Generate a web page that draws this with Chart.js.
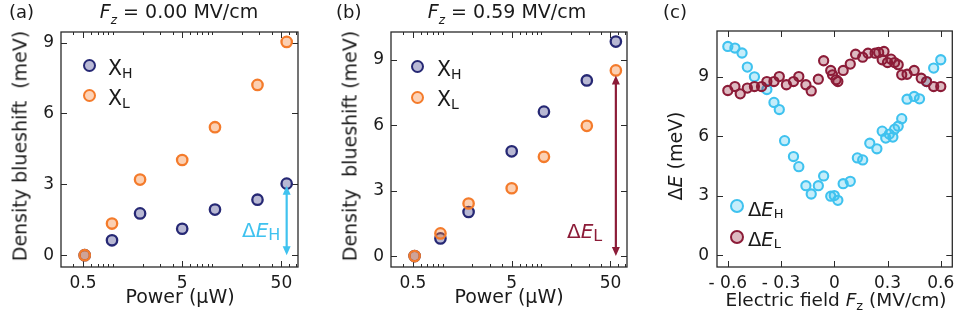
<!DOCTYPE html>
<html>
<head>
<meta charset="utf-8">
<script src="https://cdn.jsdelivr.net/npm/chart.js@4.4.0/dist/chart.umd.min.js"></script>
<style>
    body { margin: 0; background: #fff; width: 959px; height: 324px; position: relative; overflow: hidden;
           font-family: "DejaVu Sans", sans-serif; color: #1a1a1a; }
    .panel { position: absolute; top: 0; height: 324px; }
    .t { position: absolute; white-space: nowrap; line-height: 1; }
    .s { position: relative; }
    .dot { position: absolute; border-radius: 50%; box-sizing: border-box; }
</style>
</head>
<body>
<div class="panel" style="left:0;width:320px"><canvas id="chartA" width="320" height="324"></canvas></div>
<div class="panel" style="left:320px;width:320px"><canvas id="chartB" width="320" height="324"></canvas></div>
<div class="panel" style="left:640px;width:319px"><canvas id="chartC" width="319" height="324"></canvas></div>
<div id="labels"></div>

<script>
// ---- data ----
// (a) Fz = 0.00 MV/cm
const powerA = [0.52, 0.98, 1.88, 5.0, 10.7, 28.7, 56.5];
const xhA = [0, 0.63, 1.77, 1.12, 1.93, 2.35, 3.03];
const xlA = [0, 1.34, 3.20, 4.03, 5.42, 7.21, 9.03];
// (b) Fz = 0.59 MV/cm
const powerB = [0.52, 0.95, 1.83, 5.0, 10.6, 28.8, 56.7];
const xhB = [0, 0.81, 2.02, 4.80, 6.62, 8.05, 9.83];
const xlB = [0, 1.04, 2.41, 3.11, 4.55, 5.97, 8.51];
// (c) splitting vs field
const fieldH = [-0.60, -0.56, -0.52, -0.49, -0.45, -0.38, -0.34, -0.31, -0.28, -0.23, -0.20, -0.16, -0.13,
                -0.09, -0.06, -0.02, 0.00, 0.02, 0.05, 0.09, 0.13, 0.16, 0.20, 0.24, 0.27, 0.29, 0.31, 0.33,
                0.34, 0.36, 0.38, 0.41, 0.45, 0.48, 0.52, 0.56, 0.60];
const dEH = [10.52, 10.44, 10.19, 9.48, 8.99, 8.35, 7.70, 7.34, 5.77, 4.97, 4.46, 3.50, 3.08,
             3.50, 3.99, 2.97, 3.00, 2.76, 3.60, 3.72, 4.90, 4.80, 5.64, 5.36, 6.25, 5.90, 6.10, 5.95,
             6.35, 6.50, 6.88, 7.86, 8.00, 7.88, 8.75, 9.43, 9.85];
const fieldL = [-0.60, -0.56, -0.53, -0.49, -0.45, -0.41, -0.38, -0.34, -0.31, -0.27, -0.23, -0.20, -0.16,
                -0.13, -0.09, -0.06, -0.02, -0.01, 0.01, 0.02, 0.05, 0.09, 0.12, 0.16, 0.19, 0.23, 0.25,
                0.28, 0.27, 0.30, 0.32, 0.34, 0.36, 0.38, 0.41, 0.45, 0.49, 0.52, 0.56, 0.60];
const dEL = [8.30, 8.50, 8.13, 8.42, 8.50, 8.50, 8.75, 8.75, 9.00, 8.59, 8.75, 9.00, 8.59,
             8.28, 8.87, 9.80, 9.31, 9.09, 8.84, 8.75, 9.31, 9.63, 10.13, 9.98, 10.18, 10.18, 10.22,
             10.27, 9.85, 9.71, 9.88, 9.71, 9.60, 9.09, 9.12, 9.31, 8.92, 8.75, 8.50, 8.50];

// tick labels
const powerTicks = [0.5, 5, 50];
const powerMinor = [0.4, 0.6, 0.7, 0.8, 0.9, 1, 2, 3, 4, 6, 7, 8, 9, 10, 20, 30, 40, 60, 70];
const shiftTicks = [0, 3, 6, 9];
const fieldTicks = [-0.6, -0.3, 0, 0.3, 0.6];
const fieldLabels = ['- 0.6', '- 0.3', '0', '0.3', '0.6'];

const navy = '#262874', orange = '#f47b2b', cyan = '#3fc2ef', wine = '#8c1c38';

const toXY = (xs, ys) => xs.map((x, i) => ({ x: x, y: ys[i] }));

// frame with inward ticks on all four sides
const framePlugin = {
    id: 'frame',
    beforeDatasetsDraw(chart, args, opts) {
        const { ctx, chartArea: a, scales: { x, y } } = chart;
        ctx.save();
        ctx.strokeStyle = '#2a2a2a';
        ctx.lineWidth = 1.3;
        ctx.strokeRect(a.left, a.top, a.right - a.left, a.bottom - a.top);
        ctx.beginPath();
        const vx = (v, len) => {
            const p = Math.round(x.getPixelForValue(v)) + 0.5;
            ctx.moveTo(p, a.bottom); ctx.lineTo(p, a.bottom - len);
            ctx.moveTo(p, a.top); ctx.lineTo(p, a.top + len);
        };
        const vy = (v, len) => {
            const p = Math.round(y.getPixelForValue(v)) + 0.5;
            ctx.moveTo(a.left, p); ctx.lineTo(a.left + len, p);
            ctx.moveTo(a.right, p); ctx.lineTo(a.right - len, p);
        };
        opts.xMajor.forEach(v => vx(v, 6));
        (opts.xMinor || []).forEach(v => vx(v, 3));
        opts.yMajor.forEach(v => vy(v, 6));
        ctx.lineWidth = 1;
        ctx.stroke();
        ctx.restore();
    }
};

// double-headed arrow between two values at one x position
const arrowPlugin = {
    id: 'arrow',
    afterDatasetsDraw(chart, args, opts) {
        if (!opts || opts.x === undefined) return;
        const { ctx, scales: { x, y } } = chart;
        const px = x.getPixelForValue(opts.x);
        const top = y.getPixelForValue(opts.to) + opts.inset;
        const bot = y.getPixelForValue(opts.from);
        const hl = 9, hw = 4;
        ctx.save();
        ctx.strokeStyle = opts.color;
        ctx.fillStyle = opts.color;
        ctx.lineWidth = 2.2;
        ctx.beginPath();
        ctx.moveTo(px, top + hl - 1); ctx.lineTo(px, bot - hl + 1);
        ctx.stroke();
        ctx.beginPath();
        ctx.moveTo(px, top); ctx.lineTo(px - hw, top + hl); ctx.lineTo(px + hw, top + hl); ctx.closePath();
        ctx.moveTo(px, bot); ctx.lineTo(px - hw, bot - hl); ctx.lineTo(px + hw, bot - hl); ctx.closePath();
        ctx.fill();
        ctx.restore();
    }
};

function fixAxis(size) {
    return function (scale) {
        if (scale.isHorizontal()) scale.height = size; else scale.width = size;
        scale.paddingLeft = scale.paddingRight = scale.paddingTop = scale.paddingBottom = 0;
    };
}

const tickFont = { family: 'DejaVu Sans', size: 17 };

function powerChart(id, power, xh, xl, yMax, leftW, rightPad, arrow) {
    return new Chart(document.getElementById(id), {
        type: 'scatter',
        data: {
            datasets: [{
                label: 'XH',
                data: toXY(power, xh),
                order: 2,
                pointRadius: 5.2,
                borderWidth: 2.3,
                borderColor: navy,
                backgroundColor: 'rgba(40, 40, 120, 0.33)'
            }, {
                label: 'XL',
                data: toXY(power, xl),
                order: 1,
                pointRadius: 5.2,
                borderWidth: 2.3,
                borderColor: orange,
                backgroundColor: 'rgba(245, 125, 45, 0.36)'
            }]
        },
        options: {
            responsive: false,
            animation: false,
            devicePixelRatio: 1,
            layout: { padding: { top: 32, right: rightPad, left: 0, bottom: 0 } },
            scales: {
                x: {
                    type: 'logarithmic',
                    min: 0.31,
                    max: 73.5,
                    afterFit: fixAxis(57),
                    afterBuildTicks: s => { s.ticks = powerTicks.map(v => ({ value: v })); },
                    grid: { display: false, drawTicks: false },
                    border: { display: false },
                    ticks: { color: '#1a1a1a', font: tickFont, padding: 6, maxRotation: 0, autoSkip: false,
                             callback: v => String(v) }
                },
                y: {
                    min: -0.5,
                    max: yMax,
                    afterFit: fixAxis(leftW),
                    afterBuildTicks: s => { s.ticks = shiftTicks.map(v => ({ value: v })); },
                    grid: { display: false, drawTicks: false },
                    border: { display: false },
                    ticks: { color: '#1a1a1a', font: tickFont, padding: 7 }
                }
            },
            plugins: {
                legend: { display: false },
                tooltip: { enabled: false },
                frame: { xMajor: powerTicks, xMinor: powerMinor, yMajor: shiftTicks },
                arrow: arrow
            }
        },
        plugins: [framePlugin, arrowPlugin]
    });
}

powerChart('chartA', powerA, xhA, xlA, 9.45, 61, 22,
    { x: powerA[6], from: 0, to: xhA[6], inset: 2, color: cyan });
powerChart('chartB', powerB, xhB, xlB, 10.27, 71, 13,
    { x: powerB[6], from: 0, to: xlB[6], inset: 5, color: wine });

new Chart(document.getElementById('chartC'), {
    type: 'scatter',
    data: {
        datasets: [{
            label: 'dEH',
            data: toXY(fieldH, dEH),
            order: 2,
            pointRadius: 4.6,
            borderWidth: 2.1,
            borderColor: cyan,
            backgroundColor: 'rgba(64, 196, 240, 0.3)'
        }, {
            label: 'dEL',
            data: toXY(fieldL, dEL),
            order: 1,
            pointRadius: 4.6,
            borderWidth: 2.1,
            borderColor: wine,
            backgroundColor: 'rgba(142, 27, 51, 0.3)'
        }]
    },
    options: {
        responsive: false,
        animation: false,
        devicePixelRatio: 1,
        layout: { padding: { top: 31, right: 4, left: 0, bottom: 0 } },
        scales: {
            x: {
                min: -0.661,
                max: 0.665,
                afterFit: fixAxis(57),
                afterBuildTicks: s => { s.ticks = fieldTicks.map(v => ({ value: v })); },
                grid: { display: false, drawTicks: false },
                border: { display: false },
                ticks: { color: '#1a1a1a', font: tickFont, padding: 6, maxRotation: 0, autoSkip: false,
                         callback: (v, i) => fieldLabels[i] }
            },
            y: {
                min: -0.6,
                max: 11.3,
                afterFit: fixAxis(77),
                afterBuildTicks: s => { s.ticks = shiftTicks.map(v => ({ value: v })); },
                grid: { display: false, drawTicks: false },
                border: { display: false },
                ticks: { color: '#1a1a1a', font: tickFont, padding: 8 }
            }
        },
        plugins: {
            legend: { display: false },
            tooltip: { enabled: false },
            frame: { xMajor: fieldTicks, yMajor: shiftTicks }
        }
    },
    plugins: [framePlugin]
});

// ---- text overlays (titles, legends, annotations) ----
const box = document.getElementById('labels');
function sub(txt, size, dy) {
    return '<span class="s" style="font-size:' + size + 'px;top:' + dy + 'px">' + txt + '</span>';
}
function addText(html, x, base, size, align, color) {
    const d = document.createElement('div');
    d.className = 't';
    d.innerHTML = html;
    d.style.fontSize = size + 'px';
    d.style.left = x + 'px';
    d.style.top = (base - 0.846 * size) + 'px';
    if (color) d.style.color = color;
    if (align === 'center') d.style.transform = 'translateX(-50%)';
    box.appendChild(d);
}
function addYTitle(html, cx, cy, size) {
    const d = document.createElement('div');
    d.className = 't';
    d.innerHTML = html;
    d.style.fontSize = size + 'px';
    d.style.left = cx + 'px';
    d.style.top = cy + 'px';
    d.style.transform = 'translate(-50%, -50%) rotate(-90deg)';
    box.appendChild(d);
}
function addDot(cx, cy, d, border, fill) {
    const e = document.createElement('div');
    e.className = 'dot';
    e.style.left = (cx - d / 2) + 'px';
    e.style.top = (cy - d / 2) + 'px';
    e.style.width = d + 'px';
    e.style.height = d + 'px';
    e.style.border = '2.4px solid ' + border;
    e.style.background = fill;
    box.appendChild(e);
}

const fz = '<i>F</i>' + sub('<i>z</i>', 12, 6);

// (a)
addText('(a)', 9, 18, 18, 'left');
addText(fz + ' = 0.00 MV/cm', 179, 18, 19, 'center');
addDot(89, 65.7, 13, navy, '#b9b9d6');
addText('X' + sub('H', 14, 3), 108, 75, 20.5, 'left');
addDot(89, 95.7, 13, orange, '#fdd3b8');
addText('X' + sub('L', 14, 3), 108, 105, 20.5, 'left');
addText('Δ<i>E</i>' + sub('H', 16, 3), 242, 237, 20, 'left', cyan);
addYTitle('Density blueshift&nbsp; (meV)', 20, 146, 19);
addText('Power (μW)', 180, 303, 19, 'center');

// (b)
addText('(b)', 336, 18, 18, 'left');
addText(fz + ' = 0.59 MV/cm', 507, 18, 19, 'center');
addDot(417.7, 66.7, 13, navy, '#b9b9d6');
addText('X' + sub('H', 14, 3), 437, 76, 20.5, 'left');
addDot(417.7, 97.3, 13, orange, '#fdd3b8');
addText('X' + sub('L', 14, 3), 437, 106, 20.5, 'left');
addText('Δ<i>E</i>' + sub('L', 16, 3), 567, 238, 20, 'left', wine);
addYTitle('Density&nbsp; blueshift (meV)', 349.5, 146, 19);
addText('Power (μW)', 509, 303, 19, 'center');

// (c)
addText('(c)', 663, 18, 18, 'left');
addYTitle('Δ<i>E</i> (meV)', 675, 156, 19);
addText('Electric field <i>F</i>' + sub('z', 13, 4) + ' (MV/cm)', 836, 307, 18.5, 'center');
addDot(736.7, 206, 14, cyan, '#c6edfb');
addText('Δ<i>E</i>' + sub('H', 13, 2), 748, 216.5, 19.5, 'left');
addDot(736.7, 236.7, 14, wine, '#ddbac1');
addText('Δ<i>E</i>' + sub('L', 13, 2), 748, 246.5, 19.5, 'left');
</script>
</body>
</html>
